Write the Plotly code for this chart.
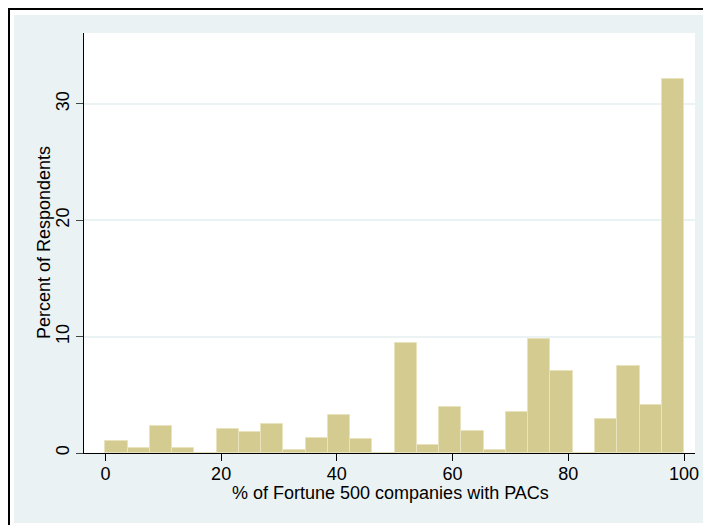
import plotly.graph_objects as go

bin_start = 0.0
bin_width = 100.0 / 26
percents = [1.0, 0.43, 2.34, 0.43, 0.0, 2.06, 1.8, 2.52, 0.28, 1.31, 3.24, 1.17, 0.0,
            9.42, 0.69, 3.97, 1.92, 0.26, 3.52, 9.76, 7.07, 0.0, 2.92, 7.5, 4.12, 32.16]
x_ticks = [0, 20, 40, 60, 80, 100]
y_ticks = [0, 10, 20, 30]
x_title = "% of Fortune 500 companies with PACs"
y_title = "Percent of Respondents"

centers = [bin_start + bin_width * (i + 0.5) for i in range(len(percents))]

# page body has an 8px margin; figure coordinates are reference minus OFF
OFF = 8
W, H = 711 - OFF, 525 - OFF
L, R, T, B = 84 - OFF, 695 - OFF, 33 - OFF, 453 - OFF

fig = go.Figure(go.Bar(
    x=centers, y=percents, width=[bin_width] * len(percents),
    marker=dict(color="#D4CB90", line=dict(color="#E8E2BE", width=1)),
    hoverinfo="x+y",
))

def px(xp):
    return (xp - OFF - L) / (R - L)

def py(yp):
    return (B - (yp - OFF)) / (B - T)

shapes = [
    dict(type="rect", xref="paper", yref="paper", x0=px(0), x1=px(14), y0=py(525), y1=py(0),
         fillcolor="white", line=dict(width=0), layer="below"),
    dict(type="rect", xref="paper", yref="paper", x0=px(0), x1=px(711), y0=py(15), y1=py(0),
         fillcolor="white", line=dict(width=0), layer="below"),
    dict(type="rect", xref="paper", yref="paper", x0=px(0), x1=px(711), y0=py(525), y1=py(523),
         fillcolor="white", line=dict(width=0), layer="below"),
    dict(type="line", xref="paper", yref="paper", x0=px(8.5), x1=px(8.5), y0=py(525), y1=py(7),
         line=dict(color="black", width=3)),
    dict(type="line", xref="paper", yref="paper", x0=px(7), x1=px(711), y0=py(8.5), y1=py(8.5),
         line=dict(color="black", width=3)),
]

annotations = [
    dict(text=x_title, xref="paper", yref="paper", x=px(390.5), y=py(493),
         xanchor="center", yanchor="middle", showarrow=False, font=dict(size=18)),
    dict(text=y_title, xref="paper", yref="paper", x=px(44), y=py(243),
         xanchor="center", yanchor="middle", textangle=-90, showarrow=False,
         font=dict(size=18)),
]

fig.update_layout(
    width=W, height=H,
    margin=dict(l=L, r=W - R, t=T, b=H - B, pad=0),
    paper_bgcolor="#EAF2F3",
    plot_bgcolor="white",
    showlegend=False,
    bargap=0,
    font=dict(family="Liberation Sans, Arial, sans-serif", size=18, color="black"),
    shapes=shapes,
    annotations=annotations,
    xaxis=dict(
        range=[-3.7, 101.9], tickvals=x_ticks, ticks="outside", ticklen=7, tickwidth=1,
        tickcolor="black", showline=True, linecolor="black", linewidth=1,
        showgrid=False, zeroline=False, ticklabelstandoff=-3,
        tickfont=dict(size=18),
    ),
    yaxis=dict(
        range=[0, 36.1], tickvals=y_ticks, ticks="outside", ticklen=7, tickwidth=1,
        tickcolor="#444", showline=True, linecolor="black", linewidth=1,
        showgrid=True, gridcolor="#EAF2F3", gridwidth=1.5, zeroline=False,
        tickangle=-90,
        tickfont=dict(size=18),
    ),
)

fig.write_html("out.html")
